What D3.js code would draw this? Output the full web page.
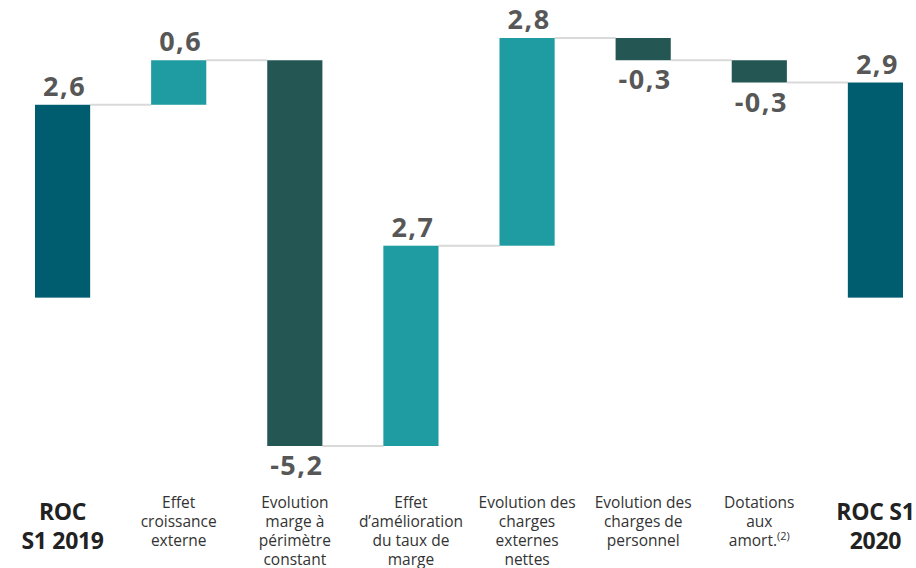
<!DOCTYPE html>
<html lang="fr">
<head>
  <meta charset="UTF-8" />
  <title>ROC S1 2019 - S1 2020</title>
  <script src="https://d3js.org/d3.v7.min.js"></script>
  <style>
    body { margin: 0; background: #fff; }
    svg { display: block; }
    .val { font-family: "Open Sans", sans-serif; font-weight: 700; font-size: 27px; fill: #575757; letter-spacing: 1.5px; }
    .cat { font-family: "Open Sans", sans-serif; font-size: 15.5px; fill: #333; }
    .cat.total { font-weight: 700; font-size: 23px; fill: #222; letter-spacing: -0.3px; }
  </style>
</head>
<body>
  <svg width="916" height="568"></svg>

  <script>
    // waterfall data
    const categories = ["ROC S1 2019", "Effet croissance externe", "Evolution marge à périmètre constant",
      "Effet d’amélioration du taux de marge", "Evolution des charges externes nettes",
      "Evolution des charges de personnel", "Dotations aux amort.(2)", "ROC S1 2020"];
    const labelLines = [
      ["ROC", "S1 2019"],
      ["Effet", "croissance", "externe"],
      ["Evolution", "marge à", "périmètre", "constant"],
      ["Effet", "d’amélioration", "du taux de", "marge"],
      ["Evolution des", "charges", "externes", "nettes"],
      ["Evolution des", "charges de", "personnel"],
      ["Dotations", "aux", "amort.(2)"],
      ["ROC S1", "2020"]
    ];
    const values = [2.6, 0.6, -5.2, 2.7, 2.8, -0.3, -0.3, 2.9];
    const kinds = ["total", "delta", "delta", "delta", "delta", "delta", "delta", "total"];

    const colors = { total: "#005d70", up: "#1f9ca1", down: "#245753" };

    const svg = d3.select("svg");

    // running totals
    let run = 0;
    const bars = categories.map((c, i) => {
      let start, end;
      if (kinds[i] === "total") { start = 0; end = values[i]; }
      else { start = run; end = run + values[i]; }
      run = end;
      return { cat: c, i, value: values[i], kind: kinds[i], start, end };
    });

    const x = d3.scaleBand()
      .domain(categories)
      .range([35, 903])
      .paddingInner(0.525)
      .paddingOuter(0);

    const y = d3.scaleLinear()
      .domain([-2.0, 3.5])
      .range([446, 38]);

    const fmt = v => d3.format(".1f")(v).replace(".", ",").replace("−", "-");

    // connectors
    svg.append("g").selectAll("line")
      .data(bars.slice(0, -1))
      .join("line")
      .attr("x1", d => x(d.cat) + x.bandwidth())
      .attr("x2", d => x(categories[d.i + 1]))
      .attr("y1", d => y(d.end))
      .attr("y2", d => y(d.end))
      .attr("stroke", "#d9d9d9")
      .attr("stroke-width", 2);

    // bars
    svg.append("g").selectAll("rect")
      .data(bars)
      .join("rect")
      .attr("x", d => x(d.cat))
      .attr("width", x.bandwidth())
      .attr("y", d => y(Math.max(d.start, d.end)))
      .attr("height", d => Math.abs(y(d.start) - y(d.end)))
      .attr("fill", d => d.kind === "total" ? colors.total : (d.value >= 0 ? colors.up : colors.down));

    // value labels
    svg.append("g").selectAll("text")
      .data(bars)
      .join("text")
      .attr("class", "val")
      .attr("text-anchor", "middle")
      .attr("x", d => x(d.cat) + x.bandwidth() / 2 + 2)
      .attr("y", d => d.value >= 0 ? y(Math.max(d.start, d.end)) - 9 : y(Math.min(d.start, d.end)) + 29)
      .text(d => fmt(d.value));

    // category axis
    const axis = svg.append("g")
      .attr("transform", "translate(0,490)")
      .call(d3.axisBottom(x).tickSize(0));
    axis.select(".domain").remove();

    axis.selectAll(".tick text")
      .attr("class", (d, i) => kinds[i] === "total" ? "cat total" : "cat")
      .attr("y", null).attr("dy", null)
      .attr("fill", null)
      .each(function (d, i) {
        const t = d3.select(this).text(null);
        const isTotal = kinds[i] === "total";
        const lh = isTotal ? 29 : 19;
        const y0 = isTotal ? 30 : 18;
        labelLines[i].forEach((ln, k) => {
          const sup = ln.match(/^(.*)(\(\d\))$/);
          const ts = t.append("tspan").attr("x", 0).attr("y", y0 + k * lh);
          if (sup) {
            ts.text(sup[1]);
            t.append("tspan").attr("font-size", 11).attr("dy", -6).text(sup[2]);
          } else {
            ts.text(ln);
          }
        });
      });
    axis.attr("font-family", null).attr("font-size", null);
  </script>
</body>
</html>
